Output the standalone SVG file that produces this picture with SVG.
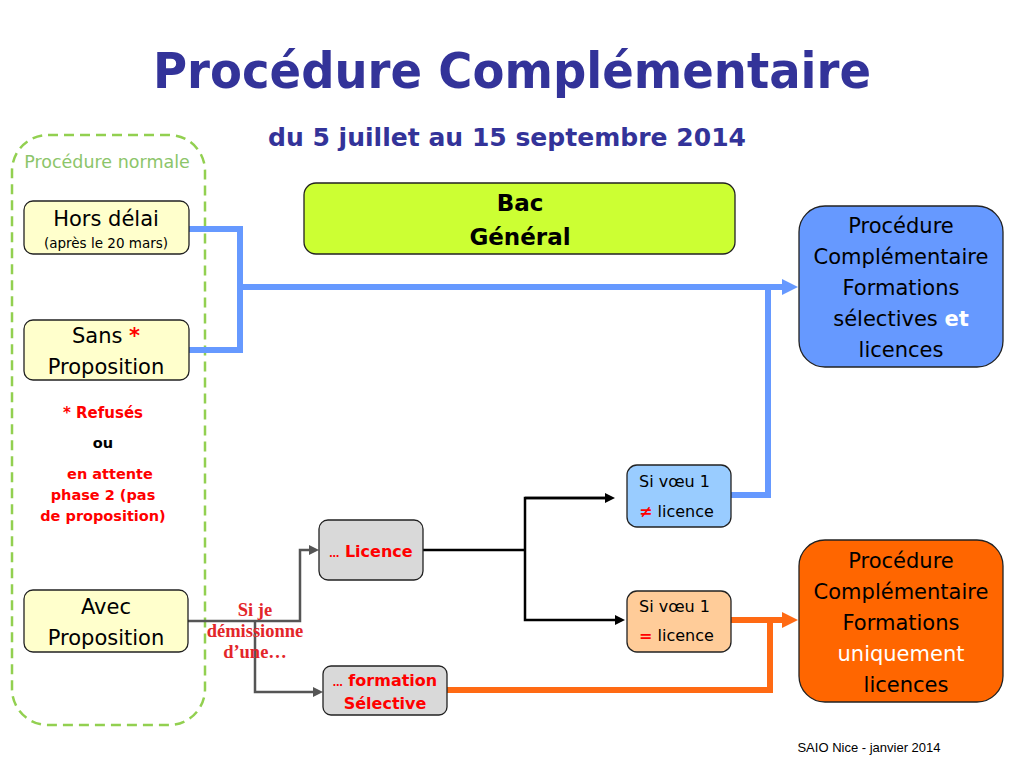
<svg xmlns="http://www.w3.org/2000/svg" width="1024" height="768" viewBox="0 0 1024 768">
<defs>
<style>
.t{font-family:"DejaVu Sans","Liberation Sans",sans-serif;}
.c{text-anchor:middle;}
.node{stroke:#222;stroke-width:1.3;}
.blue{fill:none;stroke:#6699ff;stroke-width:6;}
.orange{fill:none;stroke:#ff6a13;stroke-width:6;}
.black{fill:none;stroke:#000;stroke-width:2.5;}
.grey{fill:none;stroke:#555;stroke-width:2.5;}
.red{fill:#ff0000;}
.serif{font-family:"Liberation Serif",serif;font-weight:bold;fill:#e3262a;text-anchor:middle;font-size:18.5px;}
</style>
<marker id="ab" markerUnits="userSpaceOnUse" markerWidth="16" markerHeight="16" refX="0" refY="8" orient="auto"><path d="M0,0 L16,8 L0,16 z" fill="#6699ff"/></marker>
<marker id="ao" markerUnits="userSpaceOnUse" markerWidth="16" markerHeight="16" refX="0" refY="8" orient="auto"><path d="M0,0 L16,8 L0,16 z" fill="#ff6a13"/></marker>
<marker id="ak" markerUnits="userSpaceOnUse" markerWidth="10" markerHeight="10" refX="0" refY="5" orient="auto"><path d="M0,0 L10,5 L0,10 z" fill="#000"/></marker>
<marker id="ag" markerUnits="userSpaceOnUse" markerWidth="10" markerHeight="10" refX="0" refY="5" orient="auto"><path d="M0,0 L10,5 L0,10 z" fill="#555"/></marker>
</defs>
<rect width="1024" height="768" fill="#fff"/>

<g id="title">
<text class="t c" x="512" y="88" font-size="50" font-weight="bold" fill="#333399" textLength="718" lengthAdjust="spacingAndGlyphs">Procédure Complémentaire</text>
<text class="t c" x="507" y="146" font-size="24" font-weight="bold" fill="#333399" textLength="478" lengthAdjust="spacingAndGlyphs">du 5 juillet au 15 septembre 2014</text>
</g>

<g id="procedure-normale">
<rect x="12" y="135" width="193" height="590" rx="36" fill="none" stroke="#92d050" stroke-width="2.5" stroke-dasharray="10 6"/>
<text class="t c" x="107" y="168" font-size="17.5" fill="#8cc56a">Procédure normale</text>
</g>

<g id="connectors">
<polyline class="blue" points="189,229 240,229 240,350 189,350"/>
<polyline class="blue" points="240,287 782,287" marker-end="url(#ab)"/>
<polyline class="blue" points="731,495 768,495 768,287"/>
<polyline class="orange" points="731,620 782,620" marker-end="url(#ao)"/>
<polyline class="orange" points="447,690 770,690 770,620"/>
<polyline class="black" points="423,550 525,550"/>
<polyline class="black" points="605,498 525,498 525,620 615,620" marker-end="url(#ak)"/>
<polyline class="black" points="525,498 605,498" marker-end="url(#ak)"/>
<polyline class="grey" points="188,621 300,621 300,550 309,550" marker-end="url(#ag)"/>
<polyline class="grey" points="255,621 255,692 313,692" marker-end="url(#ag)"/>
</g>

<g id="hors-delai">
<rect class="node" x="24" y="201" width="165" height="53" rx="9" fill="#ffffcc"/>
<text class="t c" x="106" y="226" font-size="21">Hors délai</text>
<text class="t c" x="106" y="248" font-size="13.5">(après le 20 mars)</text>
</g>

<g id="sans-proposition">
<rect class="node" x="24" y="320" width="165" height="60" rx="9" fill="#ffffcc"/>
<text class="t c" x="106" y="343" font-size="21">Sans <tspan class="red" font-weight="bold">*</tspan></text>
<text class="t c" x="106" y="374" font-size="21">Proposition</text>
</g>

<g id="notes">
<text class="t c red" x="103" y="418" font-size="15" font-weight="bold">* Refusés</text>
<text class="t c" x="103" y="448" font-size="14.5" font-weight="bold">ou</text>
<text class="t c red" x="110" y="479" font-size="14.5" font-weight="bold">en attente</text>
<text class="t c red" x="103" y="500" font-size="14.5" font-weight="bold">phase 2 (pas</text>
<text class="t c red" x="103" y="521" font-size="14.5" font-weight="bold">de proposition)</text>
</g>

<g id="avec-proposition">
<rect class="node" x="24" y="590" width="164" height="62" rx="9" fill="#ffffcc"/>
<text class="t c" x="106" y="614" font-size="21">Avec</text>
<text class="t c" x="106" y="645" font-size="21">Proposition</text>
</g>

<g id="si-je-demissionne">
<text class="serif" x="255" y="616">Si je</text>
<text class="serif" x="255" y="637">démissionne</text>
<text class="serif" x="255" y="658">d’une…</text>
</g>

<g id="bac-general">
<rect class="node" x="304" y="183" width="431" height="71" rx="12" fill="#ccff33"/>
<text class="t c" x="520" y="211" font-size="23" font-weight="bold">Bac</text>
<text class="t c" x="520" y="245" font-size="23" font-weight="bold">Général</text>
</g>

<g id="licence">
<rect class="node" x="319" y="520" width="104" height="60" rx="9" fill="#d9d9d9"/>
<text class="t c red" x="371" y="557" font-size="16" font-weight="bold"><tspan font-size="10">…</tspan> Licence</text>
</g>

<g id="formation-selective">
<rect class="node" x="323" y="666" width="124" height="49" rx="8" fill="#d9d9d9"/>
<text class="t c red" x="385" y="686" font-size="16" font-weight="bold"><tspan font-size="10">…</tspan> formation</text>
<text class="t c red" x="385" y="709" font-size="16" font-weight="bold">Sélective</text>
</g>

<g id="voeu-different">
<rect class="node" x="627" y="465" width="104" height="62" rx="10" fill="#99ccff"/>
<text class="t" x="639" y="487" font-size="16">Si vœu 1</text>
<text class="t" x="639" y="517" font-size="16"><tspan class="red" font-weight="bold">≠</tspan> licence</text>
</g>

<g id="voeu-egal">
<rect class="node" x="627" y="591" width="104" height="61" rx="10" fill="#ffcc99"/>
<text class="t" x="639" y="612" font-size="16">Si vœu 1</text>
<text class="t" x="639" y="641" font-size="16"><tspan class="red" font-weight="bold">=</tspan> licence</text>
</g>

<g id="pc-selectives-licences">
<rect class="node" x="799" y="206" width="204" height="161" rx="26" fill="#6699ff"/>
<text class="t c" x="901" y="233" font-size="21">Procédure</text>
<text class="t c" x="901" y="264" font-size="21">Complémentaire</text>
<text class="t c" x="901" y="295" font-size="21">Formations</text>
<text class="t c" x="901" y="326" font-size="21">sélectives <tspan fill="#fff" font-weight="bold">et</tspan></text>
<text class="t c" x="901" y="357" font-size="21">licences</text>
</g>

<g id="pc-licences">
<rect class="node" x="799" y="540" width="204" height="162" rx="26" fill="#ff6600"/>
<text class="t c" x="901" y="568" font-size="21">Procédure</text>
<text class="t c" x="901" y="599" font-size="21">Complémentaire</text>
<text class="t c" x="901" y="630" font-size="21">Formations</text>
<text class="t c" x="901" y="661" font-size="21" fill="#fff">uniquement</text>
<text class="t c" x="906" y="692" font-size="21">licences</text>
</g>

<text x="869" y="752" font-size="13" text-anchor="middle" font-family="'Liberation Sans',Arial,sans-serif">SAIO Nice - janvier 2014</text>
</svg>
